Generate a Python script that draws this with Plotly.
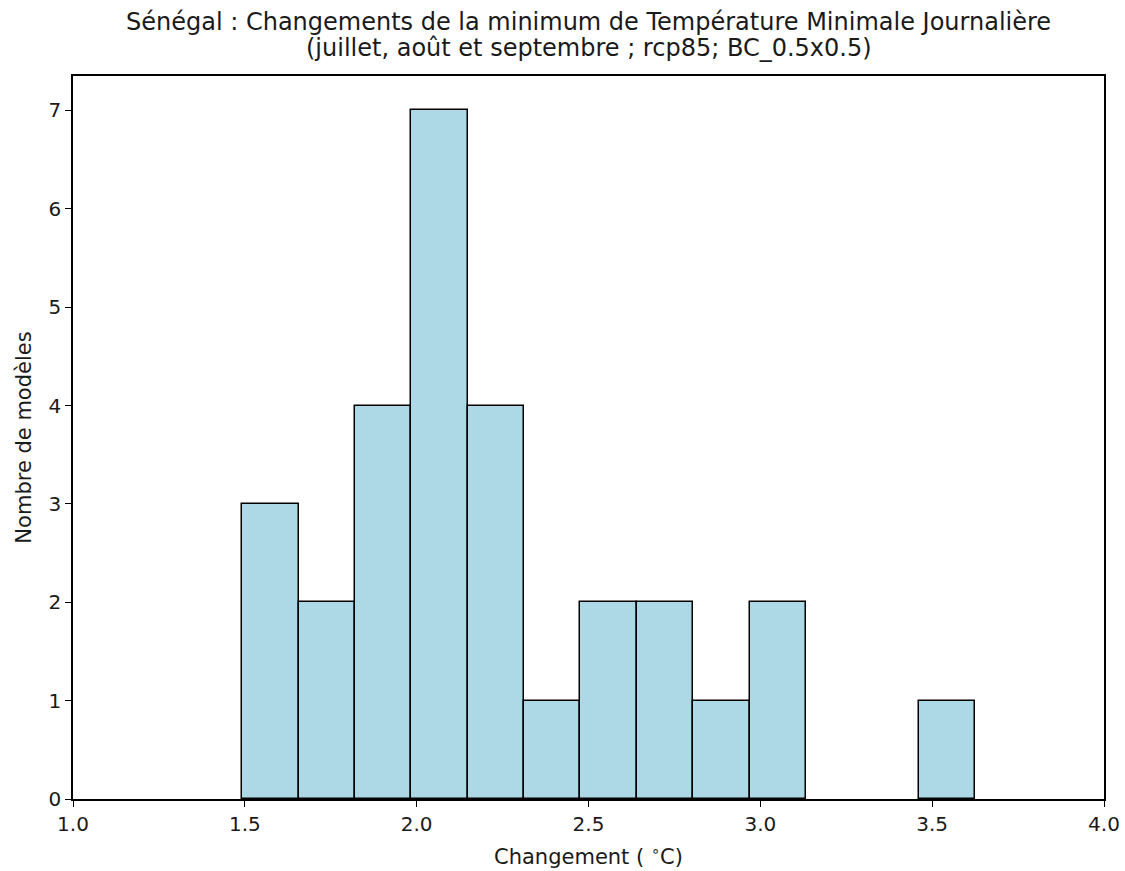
import plotly.graph_objects as go

# histogram bins (left edge, width) and counts
bin_start = 1.4925
bin_width = 0.164
counts = [3, 2, 4, 7, 4, 1, 2, 2, 1, 2, 0, 0, 1]

x_ticks = [1.0, 1.5, 2.0, 2.5, 3.0, 3.5, 4.0]
y_ticks = [0, 1, 2, 3, 4, 5, 6, 7]

title_lines = ['Sénégal : Changements de la minimum de Température Minimale Journalière',
               '(juillet, août et septembre ; rcp85; BC_0.5x0.5)']

centers = [bin_start + bin_width * (i + 0.5) for i in range(len(counts))]
# empty bins get no outline (matplotlib's zero-height patches are invisible)
edge_widths = [1.5 if c > 0 else 0 for c in counts]

fig = go.Figure()
fig.add_trace(go.Bar(
    x=centers,
    y=counts,
    width=[bin_width] * len(counts),
    marker=dict(color='#ADD8E6', line=dict(color='black', width=edge_widths)),
))

# two title lines as annotations so the line spacing matches
for line, shift in zip(title_lines, [54, 28]):
    fig.add_annotation(text=line, x=0.5, xref='paper', y=1, yref='paper',
                       xanchor='center', yanchor='middle', yshift=shift, showarrow=False,
                       font=dict(family='DejaVu Sans', size=24, color='#1a1a1a'))

tick_font = dict(family='DejaVu Sans', size=20, color='#1a1a1a')
label_font = dict(family='DejaVu Sans', size=21, color='#1a1a1a')
fig.update_layout(
    width=1125, height=871,
    plot_bgcolor='white', paper_bgcolor='white',
    margin=dict(l=73, r=21, t=76, b=72),
    showlegend=False,
    bargap=0,
    font=dict(family='DejaVu Sans', size=20, color='#1a1a1a'),
    xaxis=dict(
        range=[1.0, 4.0], tickvals=x_ticks, ticktext=['%.1f' % v for v in x_ticks],
        ticks='outside', ticklen=6, tickwidth=1.3, tickcolor='black', tickfont=tick_font,
        showgrid=False, zeroline=False, showline=True, linecolor='black', linewidth=1.5, mirror=True,
        automargin=False,
        title=dict(text='Changement ( <sup>∘</sup>C)', font=label_font, standoff=15),
    ),
    yaxis=dict(
        range=[0, 7.35], tickvals=y_ticks,
        ticks='outside', ticklen=6, tickwidth=1.3, tickcolor='black', tickfont=tick_font,
        showgrid=False, zeroline=False, showline=True, linecolor='black', linewidth=1.5, mirror=True,
        automargin=False,
        title=dict(text='Nombre de modèles', font=label_font, standoff=11),
    ),
)

# drop the page's default body margin so the figure fills the window exactly
fig.write_html("out.html", config={'displayModeBar': False},
               post_script="document.body.style.margin='0';")
